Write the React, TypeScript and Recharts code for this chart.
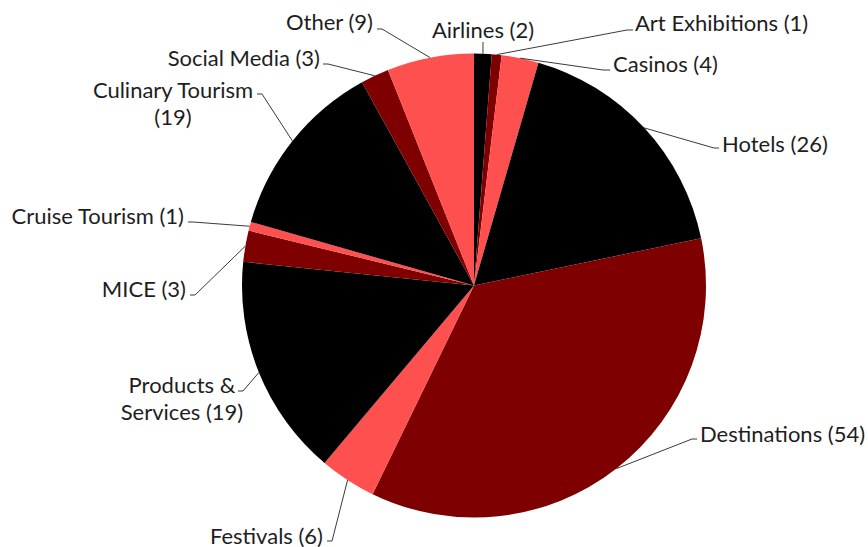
import { PieChart, Pie, Cell } from "recharts";

const categories = [
  "Airlines",
  "Art Exhibitions",
  "Casinos",
  "Hotels",
  "Destinations",
  "Festivals",
  "Products & Services",
  "MICE",
  "Cruise Tourism",
  "Culinary Tourism",
  "Social Media",
  "Other",
];

// numbers printed in the labels
const counts = [2, 1, 4, 26, 54, 6, 19, 3, 1, 19, 3, 9];

// slice sizes as drawn in the picture
const shares = [1.8, 1, 3.8, 25.4, 52.2, 5.8, 22.8, 3.2, 0.9, 18.5, 2.9, 8.9];

const palette = ["#000000", "#7f0000", "#ff5050"];

// label placement: text anchor point, leader elbow and tail
type Layout = {
  x: number;
  y: number;
  anchor: "start" | "middle" | "end";
  elbow: [number, number];
  tail?: [number, number];
  breakAfter?: string;
};

const labelLayout: Layout[] = [
  { x: 483, y: 29, anchor: "middle", elbow: [483, 42] },
  { x: 635, y: 22, anchor: "start", elbow: [627, 30], tail: [633, 30] },
  { x: 613, y: 63, anchor: "start", elbow: [603, 70], tail: [610, 70] },
  { x: 722, y: 143, anchor: "start", elbow: [714, 148], tail: [719, 148] },
  { x: 700, y: 433, anchor: "start", elbow: [692, 439], tail: [697, 439] },
  { x: 323, y: 535, anchor: "end", elbow: [332, 541], tail: [327, 541] },
  { x: 182, y: 384, anchor: "middle", elbow: [243, 391], tail: [238, 391], breakAfter: "&" },
  { x: 186, y: 288, anchor: "end", elbow: [195, 295], tail: [190, 295] },
  { x: 184, y: 215, anchor: "end", elbow: [193, 222], tail: [188, 222] },
  { x: 173, y: 89, anchor: "middle", elbow: [262, 94], tail: [257, 94], breakAfter: "Tourism" },
  { x: 320, y: 57, anchor: "end", elbow: [328, 64], tail: [323, 64] },
  { x: 373, y: 21, anchor: "end", elbow: [382, 29], tail: [377, 29] },
];

const data = categories.map((name, i) => ({ name, value: shares[i], count: counts[i] }));

const RADIAN = Math.PI / 180;

function renderLabel(props: any) {
  const { cx, cy, midAngle, outerRadius, index } = props;
  const lay = labelLayout[index];
  const px = cx + outerRadius * Math.cos(-midAngle * RADIAN);
  const py = cy + outerRadius * Math.sin(-midAngle * RADIAN);
  const pts = [[px, py], lay.elbow];
  if (lay.tail) pts.push(lay.tail);
  const full = `${categories[index]} (${counts[index]})`;
  let lines = [full];
  if (lay.breakAfter) {
    const k = full.indexOf(lay.breakAfter) + lay.breakAfter.length;
    lines = [full.slice(0, k), full.slice(k).trim()];
  }
  return (
    <g key={`lbl-${index}`}>
      <polyline
        points={pts.map((p) => p.join(",")).join(" ")}
        fill="none"
        stroke="#3a3a3a"
        strokeWidth={1}
      />
      {lines.map((t, j) => (
        <text
          key={j}
          x={lay.x}
          y={lay.y + j * 27}
          textAnchor={lay.anchor}
          dominantBaseline="central"
          fill="#1e1e1e"
          fontSize={22}
          fontFamily="Lato, 'Open Sans', sans-serif"
        >
          {t}
        </text>
      ))}
    </g>
  );
}

export default function App() {
  return (
    <div style={{ position: "absolute", left: 0, top: 0, width: 868, height: 547, background: "#fff" }}>
      <PieChart width={868} height={547} margin={{ top: 0, right: 0, bottom: 0, left: 0 }}>
        <Pie
          data={data}
          dataKey="value"
          nameKey="name"
          cx={474}
          cy={285.5}
          outerRadius={232}
          startAngle={90}
          endAngle={-270}
          stroke="none"
          label={renderLabel}
          labelLine={false}
          isAnimationActive={false}
        >
          {data.map((d, i) => (
            <Cell key={d.name} fill={palette[i % 3]} />
          ))}
        </Pie>
      </PieChart>
    </div>
  );
}
